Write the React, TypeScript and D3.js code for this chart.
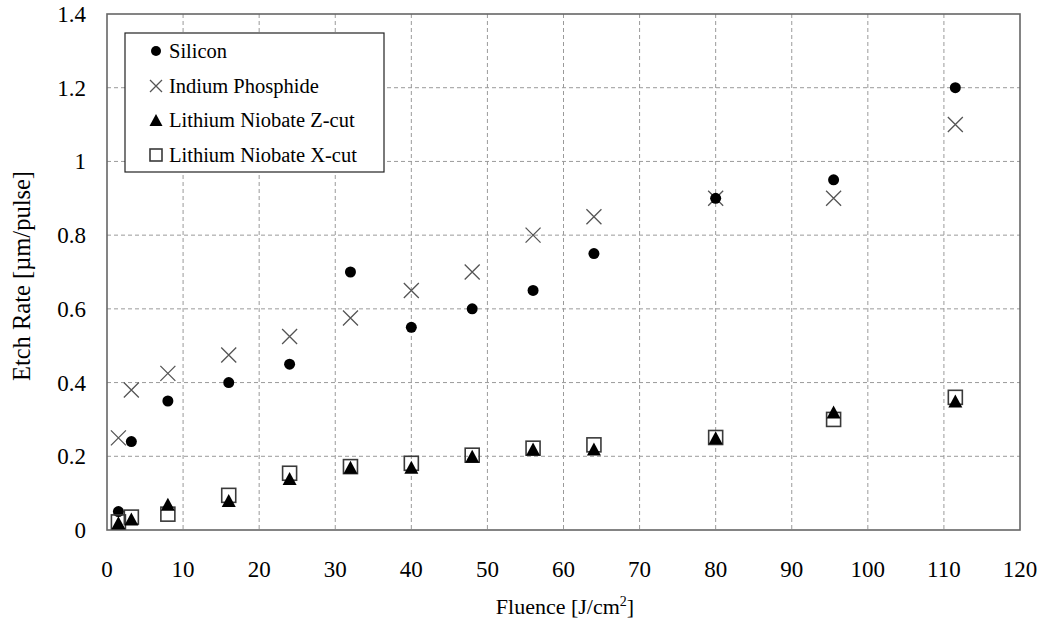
import React from "react";
import * as d3 from "d3";

const fluence = [1.5, 3.2, 8, 16, 24, 32, 40, 48, 56, 64, 80, 95.5, 111.5];
const silicon = [0.05, 0.24, 0.35, 0.40, 0.45, 0.70, 0.55, 0.60, 0.65, 0.75, 0.90, 0.95, 1.20];
const indiumPhosphide = [0.25, 0.38, 0.425, 0.475, 0.525, 0.575, 0.65, 0.70, 0.80, 0.85, 0.90, 0.90, 1.10];
const lnZcut = [0.02, 0.03, 0.07, 0.08, 0.14, 0.17, 0.17, 0.20, 0.22, 0.22, 0.25, 0.32, 0.35];
const lnXcut = [0.022, 0.035, 0.043, 0.094, 0.154, 0.172, 0.181, 0.203, 0.222, 0.231, 0.251, 0.30, 0.36];
const xTicks = [0, 10, 20, 30, 40, 50, 60, 70, 80, 90, 100, 110, 120];
const yTicks = [0, 0.2, 0.4, 0.6, 0.8, 1.0, 1.2, 1.4];
const legendLabels = ["Silicon", "Indium Phosphide", "Lithium Niobate Z-cut", "Lithium Niobate X-cut"];

const W = 1043, H = 622;
const L = 107, R = 1020, T = 14, B = 530;
const FONT = '"Liberation Serif", "Times New Roman", Tinos, "DejaVu Serif", serif';

const x = d3.scaleLinear().domain([0, 120]).range([L, R]);
const y = d3.scaleLinear().domain([0, 1.4]).range([B, T]);

const Circle = ({ cx, cy, r = 5.5 }: any) => <circle cx={cx} cy={cy} r={r} fill="#000" />;
const Cross = ({ cx, cy, s = 7.5 }: any) => (
  <path d={`M${cx - s},${cy - s}L${cx + s},${cy + s}M${cx - s},${cy + s}L${cx + s},${cy - s}`} stroke="#555" strokeWidth={1.3} fill="none" />
);
const Tri = ({ cx, cy, w = 14, h = 13 }: any) => (
  <path d={`M${cx},${cy - h / 2}L${cx + w / 2},${cy + h / 2}L${cx - w / 2},${cy + h / 2}Z`} fill="#000" />
);
const Sq = ({ cx, cy, s = 14 }: any) => (
  <rect x={cx - s / 2} y={cy - s / 2} width={s} height={s} fill="none" stroke="#3a3a3a" strokeWidth={1.6} />
);

export default function App() {
  const fmt = (v: number) => (v === 0 ? "0" : v === 1 ? "1" : String(+v.toFixed(1)));
  const legY = [51, 86, 120, 155];
  const ts = { fontFamily: FONT } as React.CSSProperties;
  return (
    <svg width={W} height={H} style={{ position: "absolute", left: 0, top: 0, background: "#fff", fontFamily: FONT }}>
      <rect x={0} y={0} width={W} height={H} fill="#fff" />
      {xTicks.slice(1, -1).map((t) => (
        <line key={"gx" + t} x1={x(t)} x2={x(t)} y1={T} y2={B} stroke="#9a9a9a" strokeDasharray="4,3" strokeWidth={1} />
      ))}
      {yTicks.slice(1, -1).map((t) => (
        <line key={"gy" + t} x1={L} x2={R} y1={y(t)} y2={y(t)} stroke="#9a9a9a" strokeDasharray="4,3" strokeWidth={1} />
      ))}
      <rect x={L} y={T} width={R - L} height={B - T} fill="none" stroke="#666" strokeWidth={1.6} />
      {yTicks.map((t) => (
        <text key={"ty" + t} style={ts} x={86} y={y(t)} dy="0.35em" textAnchor="end" fontSize={23}>{fmt(t)}</text>
      ))}
      {xTicks.map((t) => (
        <text key={"tx" + t} style={ts} x={x(t)} y={577} textAnchor="middle" fontSize={23}>{t}</text>
      ))}
      <text style={ts} x={565} y={614} textAnchor="middle" fontSize={22}>
        Fluence [J/cm<tspan dy={-8} fontSize={14}>2</tspan><tspan dy={8}>]</tspan>
      </text>
      <text style={ts} transform={`translate(30,276) rotate(-90)`} textAnchor="middle" fontSize={24.5}>Etch Rate [µm/pulse]</text>
      {fluence.map((f, i) => <Cross key={"ip" + i} cx={x(f)} cy={y(indiumPhosphide[i])} />)}
      {fluence.map((f, i) => <Circle key={"si" + i} cx={x(f)} cy={y(silicon[i])} />)}
      {fluence.map((f, i) => <Sq key={"lx" + i} cx={x(f)} cy={y(lnXcut[i])} />)}
      {fluence.map((f, i) => <Tri key={"lz" + i} cx={x(f)} cy={y(lnZcut[i])} />)}
      <rect x={125} y={33} width={259} height={139} fill="#fff" stroke="#222" strokeWidth={1.2} />
      <Circle cx={156} cy={legY[0]} r={5} />
      <Cross cx={156} cy={legY[1]} s={6} />
      <Tri cx={156} cy={legY[2]} w={13} h={12} />
      <Sq cx={156} cy={legY[3]} s={12} />
      {legendLabels.map((l, i) => (
        <text key={l} style={ts} x={169} y={legY[i]} dy="0.35em" fontSize={20.5}>{l}</text>
      ))}
    </svg>
  );
}
